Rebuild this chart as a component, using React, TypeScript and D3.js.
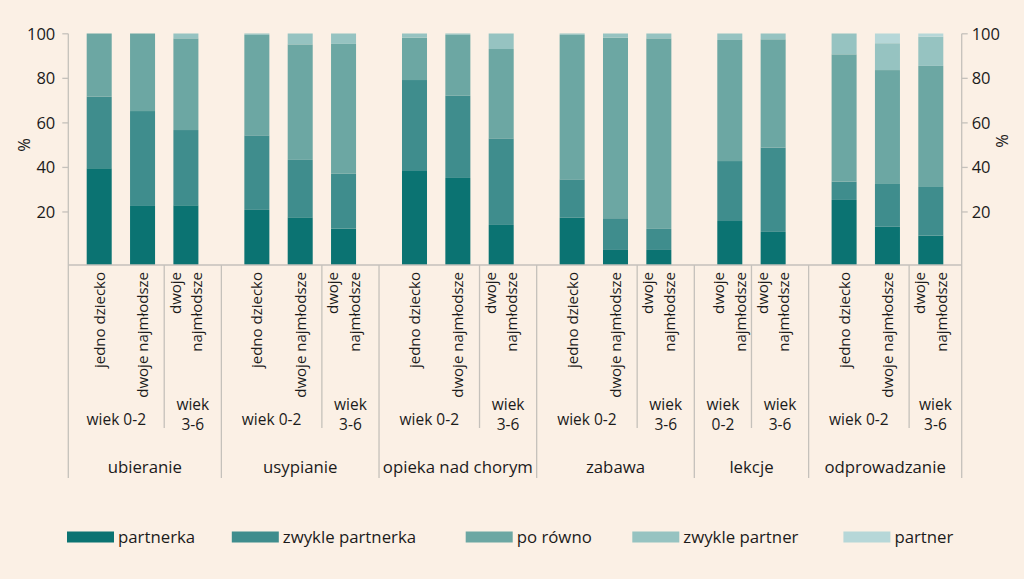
import React from "react";
import * as d3 from "d3";

// ---- data ----
const groups = ["ubieranie", "usypianie", "opieka nad chorym", "zabawa", "lekcje", "odprowadzanie"];
// group index of every bar
const barGroup = [0, 0, 0, 1, 1, 1, 2, 2, 2, 3, 3, 3, 4, 4, 5, 5, 5];
// subgroup (age) index of every bar: 0 = wiek 0-2, 1 = wiek 3-6
const barAge = [0, 0, 1, 0, 0, 1, 0, 0, 1, 0, 0, 1, 0, 1, 0, 0, 1];
const barLabels = [
  "jedno dziecko", "dwoje najmłodsze", "dwoje\nnajmłodsze",
  "jedno dziecko", "dwoje najmłodsze", "dwoje\nnajmłodsze",
  "jedno dziecko", "dwoje najmłodsze", "dwoje\nnajmłodsze",
  "jedno dziecko", "dwoje najmłodsze", "dwoje\nnajmłodsze",
  "dwoje\nnajmłodsze", "dwoje\nnajmłodsze",
  "jedno dziecko", "dwoje najmłodsze", "dwoje\nnajmłodsze",
];
const ageLabelsWide = ["wiek 0-2", "wiek\n3-6"];
const ageLabelsNarrow = ["wiek\n0-2", "wiek\n3-6"];

const seriesNames = ["partnerka", "zwykle partnerka", "po równo", "zwykle partner", "partner"];
const partnerka = [41.8, 25.5, 25.8, 23.8, 20.6, 15.7, 40.6, 37.6, 17.3, 20.4, 6.5, 6.5, 19.0, 14.3, 28.1, 16.5, 12.7];
const zwyklePartnerka = [30.9, 41.0, 32.5, 32.2, 24.8, 23.7, 39.3, 35.5, 37.4, 16.6, 13.7, 9.1, 25.9, 36.4, 7.9, 18.5, 21.0];
const poRowno = [27.3, 33.5, 39.6, 43.4, 49.9, 56.1, 18.3, 26.3, 38.6, 62.4, 78.0, 82.3, 52.3, 46.8, 55.0, 49.2, 52.3];
const zwyklePartner = [0, 0, 2.1, 0.6, 4.7, 4.5, 1.8, 0.6, 6.7, 0.6, 1.8, 2.1, 2.8, 2.5, 9.0, 11.6, 12.6];
const partner = [0, 0, 0, 0, 0, 0, 0, 0, 0, 0, 0, 0, 0, 0, 0, 4.2, 1.4];
const yTicks = [20, 40, 60, 80, 100];

// ---- style ----
const colors = ["#0b7372", "#3f8d8d", "#6ca7a3", "#96c3c1", "#b6d7d8"];
const BG = "#fbf0e5";
const LINE = "#c5c1bb";
const TEXT = "#1b1b1b";
const FONT = "'Open Sans', 'Noto Sans', sans-serif";

const W = 1024, H = 579;
const X0 = 68.3, X1 = 961.7;
const EDGE = 0.713, GAP = 0.637, BARW = 0.577;
const legendX = [67, 231.8, 465.7, 632.3, 843.4];

export default function App() {
  const n = barGroup.length;
  const units = barGroup.map((g, i) => EDGE + i + GAP * g);
  const totalUnits = EDGE * 2 + (n - 1) + GAP * (groups.length - 1);
  const x = d3.scaleLinear().domain([0, totalUnits]).range([X0, X1]);
  const barW = x(BARW) - x(0);

  const yBar = d3.scaleLinear().domain([0, 100]).range([265, 33.5]);
  const yTick = d3.scaleLinear().domain([0, 100]).range([256.5, 33.8]);
  const baseY = yBar(0);

  const rows = partnerka.map((_, i) => ({
    i,
    partnerka: partnerka[i],
    "zwykle partnerka": zwyklePartnerka[i],
    "po równo": poRowno[i],
    "zwykle partner": zwyklePartner[i],
    partner: partner[i],
  }));
  const stacked = d3.stack<any>().keys(seriesNames)(rows);

  // separators
  const groupBounds: number[] = [X0];
  const subBounds: number[] = [];
  for (let i = 0; i < n - 1; i++) {
    const mid = (x(units[i]) + x(units[i + 1])) / 2;
    if (barGroup[i] !== barGroup[i + 1]) groupBounds.push(mid);
    else if (barAge[i] !== barAge[i + 1]) subBounds.push(mid);
  }
  groupBounds.push(X1);

  // subgroup cells
  type Cell = { g: number; age: number; x0: number; x1: number; count: number };
  const cells: Cell[] = [];
  for (let i = 0; i < n; i++) {
    const left = i === 0 ? X0 : (x(units[i - 1]) + x(units[i])) / 2;
    const right = i === n - 1 ? X1 : (x(units[i]) + x(units[i + 1])) / 2;
    const last = cells[cells.length - 1];
    if (last && last.g === barGroup[i] && last.age === barAge[i]) {
      last.x1 = right;
      last.count++;
    } else cells.push({ g: barGroup[i], age: barAge[i], x0: left, x1: right, count: 1 });
  }

  const fs = 15;

  return (
    <svg width={W} height={H} style={{ position: "absolute", left: 0, top: 0, background: BG }} fontFamily={FONT}>
      <rect x={0} y={0} width={W} height={H} fill={BG} />
      {/* bars */}
      {stacked.map((s, si) => (
        <g key={si} fill={colors[si]}>
          {s.map((d, i) =>
            d[1] - d[0] > 0 ? (
              <rect key={i} x={x(units[i]) - barW / 2} width={barW} y={yBar(d[1])} height={yBar(d[0]) - yBar(d[1])} />
            ) : null
          )}
        </g>
      ))}
      {/* axes lines */}
      <g stroke={LINE} strokeWidth={1.3} fill="none">
        <line x1={X0} x2={X0} y1={yTick(100)} y2={478} />
        <line x1={X1} x2={X1} y1={yTick(100)} y2={478} />
        <line x1={X0} x2={X1} y1={baseY} y2={baseY} />
        {groupBounds.slice(1, -1).map((b, k) => (
          <line key={"g" + k} x1={b} x2={b} y1={baseY} y2={478} />
        ))}
        {subBounds.map((b, k) => (
          <line key={"s" + k} x1={b} x2={b} y1={baseY} y2={428} />
        ))}
        {yTicks.map((t) => (
          <g key={t}>
            <line x1={X0 - 6} x2={X0} y1={yTick(t)} y2={yTick(t)} />
            <line x1={X1} x2={X1 + 6} y1={yTick(t)} y2={yTick(t)} />
          </g>
        ))}
      </g>
      {/* tick labels */}
      <g fill={TEXT} fontSize={16.5}>
        {yTicks.map((t) => (
          <g key={t}>
            <text x={X0 - 13} y={yTick(t)} dy="0.36em" textAnchor="end">{t}</text>
            <text x={X1 + 10} y={yTick(t)} dy="0.36em" textAnchor="start">{t}</text>
          </g>
        ))}
        <text transform={`translate(24,145) rotate(-90)`} textAnchor="middle" dy="0.36em">%</text>
        <text transform={`translate(1002,141) rotate(-90)`} textAnchor="middle" dy="0.36em">%</text>
      </g>
      {/* bar labels */}
      <g fill={TEXT} fontSize={fs}>
        {barLabels.map((lab, i) => {
          const lines = lab.split("\n");
          const cx = x(units[i]);
          return (
            <text key={i} transform={`translate(${cx},${baseY + 7}) rotate(-90)`} textAnchor="end">
              {lines.map((l, k) => (
                <tspan key={k} x={0} y={(k - (lines.length - 1) / 2) * 21.5} dy="0.36em">{l}</tspan>
              ))}
            </text>
          );
        })}
      </g>
      {/* age labels */}
      <g fill={TEXT} fontSize={15.5} textAnchor="middle">
        {cells.map((c, k) => {
          const lab = (c.count > 1 ? ageLabelsWide : ageLabelsNarrow)[c.age];
          const lines = lab.split("\n");
          const cx = (c.x0 + c.x1) / 2;
          return (
            <text key={k}>
              {lines.length === 1 ? (
                <tspan x={cx} y={425}>{lines[0]}</tspan>
              ) : (
                lines.map((l, j) => (
                  <tspan key={j} x={cx} y={409.5 + j * 20}>{l}</tspan>
                ))
              )}
            </text>
          );
        })}
      </g>
      {/* group labels */}
      <g fill={TEXT} fontSize={16.8} textAnchor="middle">
        {groups.map((gname, k) => (
          <text key={k} x={(groupBounds[k] + groupBounds[k + 1]) / 2} y={472.5}>{gname}</text>
        ))}
      </g>
      {/* legend */}
      <g fontSize={16.8} fill={TEXT}>
        {seriesNames.map((s, k) => (
          <g key={s} transform={`translate(${legendX[k]},531.5)`}>
            <rect x={0} y={0} width={47} height={11} fill={colors[k]} />
            <text x={51} y={5.5} dy="0.36em">{s}</text>
          </g>
        ))}
      </g>
    </svg>
  );
}
